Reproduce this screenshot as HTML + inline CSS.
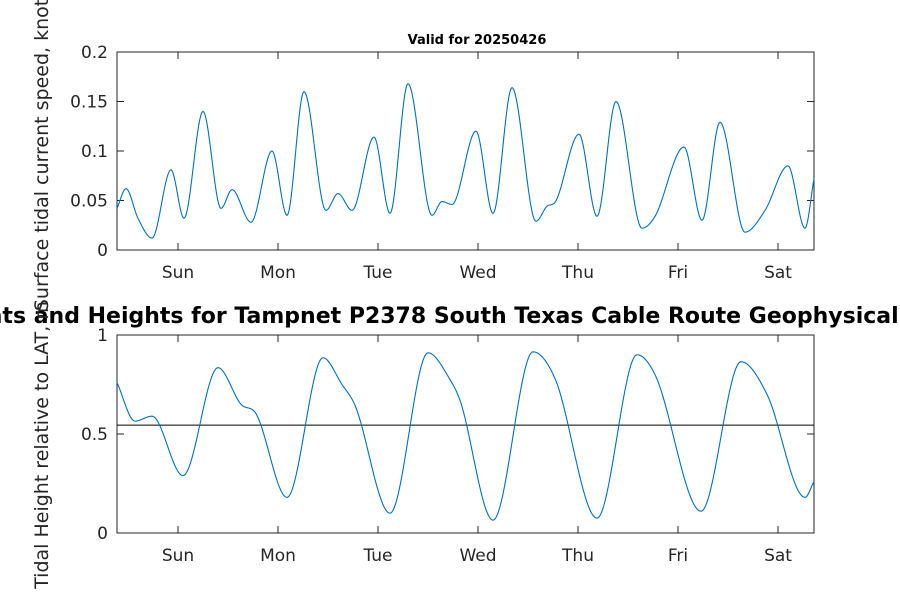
<!DOCTYPE html>
<html><head><meta charset="utf-8"><style>
body{margin:0;background:#fff}
svg{display:block;font-family:"DejaVu Sans","Liberation Sans",sans-serif}
.tk{font-size:17px;fill:#262626}
</style></head><body>
<svg id="fig" width="900" height="600" viewBox="0 0 900 600" xmlns="http://www.w3.org/2000/svg">
<rect width="900" height="600" fill="#fff"/>
<g id="top"></g>
<g id="bot"></g>
<text x="477" y="44" text-anchor="middle" font-size="13" font-weight="bold">Valid for 20250426</text>
<text x="-150" y="323" font-size="22" font-weight="bold">Tidal Currents and Heights for Tampnet P2378 South Texas Cable Route Geophysical Survey</text>
<text transform="translate(48,150) rotate(-90)" text-anchor="middle" font-size="19" fill="#262626">Surface tidal current speed, knots</text>
<text transform="translate(48,445) rotate(-90)" text-anchor="middle" font-size="19" fill="#262626">Tidal Height relative to LAT, m</text>
</svg>
<script>
const dayLabels=["Sun","Mon","Tue","Wed","Thu","Fri","Sat"];
const tMin=-0.61, tMax=6.36;
const speedTimes=[-0.61,-0.52,-0.40,-0.26,-0.07,0.06,0.25,0.43,0.54,0.73,0.94,1.09,1.26,1.48,1.60,1.74,1.96,2.12,2.30,2.54,2.64,2.74,2.98,3.15,3.34,3.58,3.70,3.76,4.01,4.19,4.38,4.64,4.77,5.06,5.24,5.42,5.67,5.87,6.10,6.27,6.36];
const speedValues=[0.042,0.062,0.032,0.012,0.081,0.032,0.14,0.042,0.061,0.028,0.1,0.035,0.16,0.04,0.057,0.04,0.114,0.037,0.168,0.035,0.049,0.046,0.12,0.037,0.164,0.029,0.045,0.047,0.117,0.034,0.15,0.022,0.034,0.104,0.03,0.129,0.018,0.04,0.085,0.022,0.072];
const speedTicks=[0,0.05,0.1,0.15,0.2];
const speedTickLabels=["0","0.05","0.1","0.15","0.2"];
const heightTimes=[-0.61,-0.43,-0.26,0.05,0.40,0.64,0.77,1.09,1.45,1.64,1.77,2.12,2.50,2.72,2.82,3.15,3.55,3.77,4.19,4.59,4.77,5.23,5.63,5.89,6.27,6.36];
const heightValues=[0.76,0.565,0.59,0.29,0.835,0.645,0.61,0.18,0.885,0.75,0.645,0.10,0.91,0.775,0.67,0.065,0.915,0.78,0.075,0.90,0.80,0.11,0.865,0.70,0.18,0.26];
const heightTicks=[0,0.5,1];
const heightTickLabels=["0","0.5","1"];
const meanLevel=0.545;
const NS="http://www.w3.org/2000/svg";
function mk(tag,attrs,parent){const e=document.createElementNS(NS,tag);for(const k in attrs)e.setAttribute(k,attrs[k]);parent.appendChild(e);return e;}
function mono(xs,ys){const n=xs.length,d=[],m=[];for(let i=0;i<n-1;i++)d.push((ys[i+1]-ys[i])/(xs[i+1]-xs[i]));
m[0]=d[0];m[n-1]=d[n-2];for(let i=1;i<n-1;i++){m[i]=(d[i-1]*d[i]<=0)?0:(d[i-1]+d[i])/2;}
for(let i=0;i<n-1;i++){if(d[i]===0){m[i]=0;m[i+1]=0;continue;}const a=m[i]/d[i],b=m[i+1]/d[i],s=a*a+b*b;if(s>9){const t=3/Math.sqrt(s);m[i]=t*a*d[i];m[i+1]=t*b*d[i];}}
return function(x){let i=0;while(i<n-2&&x>xs[i+1])i++;const h=xs[i+1]-xs[i],t=(x-xs[i])/h,t2=t*t,t3=t2*t;
return (2*t3-3*t2+1)*ys[i]+(t3-2*t2+t)*h*m[i]+(-2*t3+3*t2)*ys[i+1]+(t3-t2)*h*m[i+1];};}
function axes(g,top,bot,yMax,ticks,labels,times,vals,line){
const L=117,R=814;const xs=t=>L+(t-tMin)/(tMax-tMin)*(R-L);const ys=v=>bot-v/yMax*(bot-top);
mk("rect",{x:L,y:top,width:R-L,height:bot-top,fill:"#fff",stroke:"#262626","stroke-width":1},g);
ticks.forEach((v,i)=>{const y=ys(v);mk("line",{x1:L,x2:L+7,y1:y,y2:y,stroke:"#262626"},g);mk("line",{x1:R,x2:R-7,y1:y,y2:y,stroke:"#262626"},g);
const t=mk("text",{x:L-9,y:y+6,"text-anchor":"end",class:"tk"},g);t.textContent=labels[i];

});
dayLabels.forEach((d,i)=>{const x=xs(i);mk("line",{x1:x,x2:x,y1:bot,y2:bot-7,stroke:"#262626"},g);mk("line",{x1:x,x2:x,y1:top,y2:top+7,stroke:"#262626"},g);
const t=mk("text",{x:x,y:bot+28,"text-anchor":"middle",class:"tk"},g);t.textContent=d;

});
if(line!==null){const l=mk("line",{x1:L,x2:R,y1:ys(line),y2:ys(line),stroke:"#000","stroke-width":1},g);

}
const f=mono(times,vals);let d="";for(let t=tMin;t<=tMax+1e-9;t+=0.01){d+=(d?"L":"M")+xs(t).toFixed(2)+","+ys(f(t)).toFixed(2);}
const p=mk("path",{d:d,fill:"none",stroke:"#0072BD","stroke-width":1.1},g);

}
axes(document.getElementById("top"),52,250,0.2,speedTicks,speedTickLabels,speedTimes,speedValues,null);
axes(document.getElementById("bot"),335,533,1,heightTicks,heightTickLabels,heightTimes,heightValues,meanLevel);
</script>
</body></html>
